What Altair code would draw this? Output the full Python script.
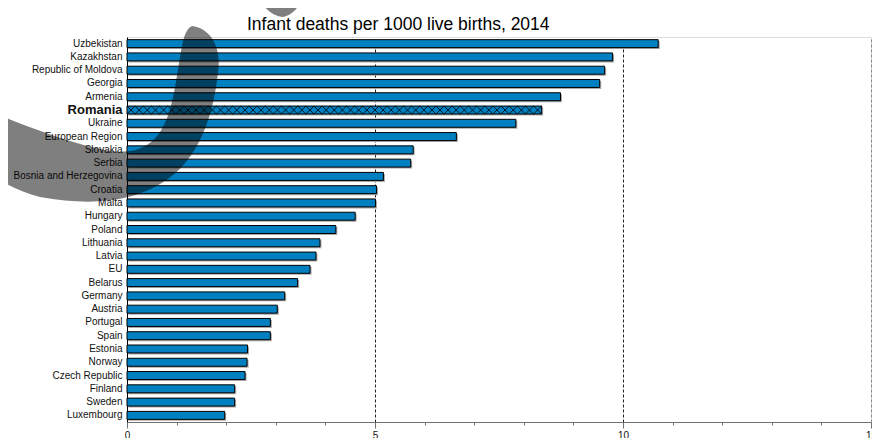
import altair as alt
import pandas as pd
import re

countries = ["Uzbekistan", "Kazakhstan", "Republic of Moldova", "Georgia", "Armenia",
             "Romania", "Ukraine", "European Region", "Slovakia", "Serbia",
             "Bosnia and Herzegovina", "Croatia", "Malta", "Hungary", "Poland",
             "Lithuania", "Latvia", "EU ", "Belarus", "Germany", "Austria",
             "Portugal", "Spain", "Estonia", "Norway", "Czech Republic", "Finland",
             "Sweden", "Luxembourg"]
values = [10.71, 9.79, 9.63, 9.53, 8.74, 8.36, 7.84, 6.64, 5.77, 5.72, 5.17, 5.03,
          5.01, 4.60, 4.21, 3.89, 3.81, 3.69, 3.44, 3.18, 3.03, 2.89, 2.89, 2.43,
          2.42, 2.38, 2.17, 2.17, 1.97]
highlight = "Romania"
x_ticks = list(range(16))
title = "Infant deaths per 1000 live births, 2014"

# layout
PAD_L, PAD_T, PAD_R, PAD_B = 119, 29, 1, 16
W, H = 744, 385
X_MAX = 15
PX = W / X_MAX
PAGE_L, PAGE_T = 8 + PAD_L, 6 + PAD_T
N = len(countries)
PAD_IN = 0.4
STEP = H / N
BAR_H = STEP * (1 - PAD_IN)

df = pd.DataFrame({"country": countries, "value": values})

ysc = alt.Scale(domain=countries, paddingInner=PAD_IN, paddingOuter=PAD_IN / 2)
xsc = alt.Scale(domain=[0, X_MAX], nice=False, zero=True)

base = alt.Chart(df)

shadow = base.mark_bar(color="#a8a8a8", xOffset=1.5, yOffset=1.5).encode(
    x=alt.X("value:Q", scale=xsc),
    y=alt.Y("country:N", scale=ysc, sort=countries),
)

bars = base.mark_bar(color="#0080c0", stroke="#000000", strokeWidth=1).encode(
    x=alt.X("value:Q", scale=xsc, title=None,
            axis=alt.Axis(values=x_ticks,
                          labelExpr="datum.value % 5 == 0 ? datum.label : ''",
                          tickSize=alt.expr("datum.value % 5 == 0 ? 6 : 3"),
                          gridOpacity=alt.expr("datum.value % 5 == 0 && datum.value > 0 ? 1 : 0"),
                          gridColor=alt.expr("datum.value == 15 ? '#8a8a8a' : '#222222'"),
                          grid=True, gridDash=[3, 2], gridWidth=1,
                          domainColor="#707070", tickColor="#707070",
                          labelFont="Liberation Sans", labelFontSize=10,
                          labelColor="#111111", labelPadding=2,
                          labelFlush=False)),
    y=alt.Y("country:N", scale=ysc, sort=countries, title=None,
            axis=alt.Axis(ticks=False, labelPadding=5, domainColor="#000000",
                          labelFont="Liberation Sans", labelColor="#111111",
                          labelFontSize=alt.expr(f"datum.value == '{highlight}' ? 13 : 10"),
                          labelFontWeight=alt.expr(f"datum.value == '{highlight}' ? 'bold' : 'normal'"),
                          labelLimit=300)),
)

# cross-hatch for the highlighted bar
hv = values[countries.index(highlight)]
bw = hv * PX
period = 8.0
n_cells = int(bw // period)
per = bw / n_cells
half = bw / 2
segs = []
for k in range(n_cells):
    x0 = k * per
    x1 = x0 + per
    for (ax, ay, bx, by) in [(x0, 0, x1, BAR_H), (x1, 0, x0, BAR_H)]:
        segs.append("M{:.4f},{:.4f}L{:.4f},{:.4f}".format(
            (ax - half) / half, (ay - BAR_H / 2) / half,
            (bx - half) / half, (by - BAR_H / 2) / half))
hatch_path = "".join(segs)

hatch = alt.Chart(pd.DataFrame({"country": [highlight], "mid": [hv / 2]})).mark_point(
    shape=hatch_path, filled=False, stroke="#000000", strokeWidth=0.8, opacity=1,
    size=bw * bw).encode(
    x=alt.X("mid:Q", scale=xsc),
    y=alt.Y("country:N", scale=ysc, sort=countries),
)


def norm_path(path, cx, cy, h):
    parts = re.split(r"(-?\d+\.?\d*)", path)
    res = []
    idx = 0
    for p in parts:
        if re.fullmatch(r"-?\d+\.?\d*", p):
            v = float(p)
            if idx % 2 == 0:
                res.append("{:.4f}".format((v - cx) / h))
            else:
                res.append("{:.4f}".format((v - cy) / h))
            idx += 1
        else:
            res.append(p)
    return "".join(res)


swoosh_raw = ("M192,24 C210,26 222,45 218,70 C214,110 200,160 160,182 "
              "C130,200 90,204 40,195 C20,190 5,182 -10,172 L-10,110 "
              "C30,125 70,142 110,149 C135,152 150,145 160,130 "
              "C172,112 175,85 180,55 C183,38 185,27 192,24 Z")
sw_cx, sw_cy, sw_h = 105, 112, 130
swoosh = alt.Chart(pd.DataFrame({"k": [0]})).mark_point(
    shape=norm_path(swoosh_raw, sw_cx, sw_cy, sw_h), filled=True, color="#000000",
    opacity=0.5, strokeWidth=0, size=(2 * sw_h) ** 2).encode(
    x=alt.value(sw_cx - PAGE_L), y=alt.value(sw_cy - PAGE_T))

blob_raw = "M255,-10 C262,5 272,14 282,15 C292,14 300,5 305,-10 Z"
b_cx, b_cy, b_h = 280, 2, 30
blob = alt.Chart(pd.DataFrame({"k": [0]})).mark_point(
    shape=norm_path(blob_raw, b_cx, b_cy, b_h), filled=True, color="#000000",
    opacity=0.5, strokeWidth=0, size=(2 * b_h) ** 2).encode(
    x=alt.value(b_cx - PAGE_L), y=alt.value(b_cy - PAGE_T))

title_mark = alt.Chart(pd.DataFrame({"t": [title]})).mark_text(
    align="left", baseline="alphabetic", font="Liberation Sans", fontSize=17.5,
    color="#000000").encode(
    text="t:N", x=alt.value(247 - PAGE_L), y=alt.value(28.3 - PAGE_T))

chart = alt.layer(shadow, bars, hatch, title_mark, swoosh, blob).properties(
    width=W, height=H,
    autosize=alt.AutoSizeParams(type="none"),
    padding={"left": PAD_L, "top": PAD_T, "right": PAD_R, "bottom": PAD_B},
).configure_view(stroke=None).configure(background="white")

chart.save("out.html", embed_options={"renderer": "svg", "actions": False})
